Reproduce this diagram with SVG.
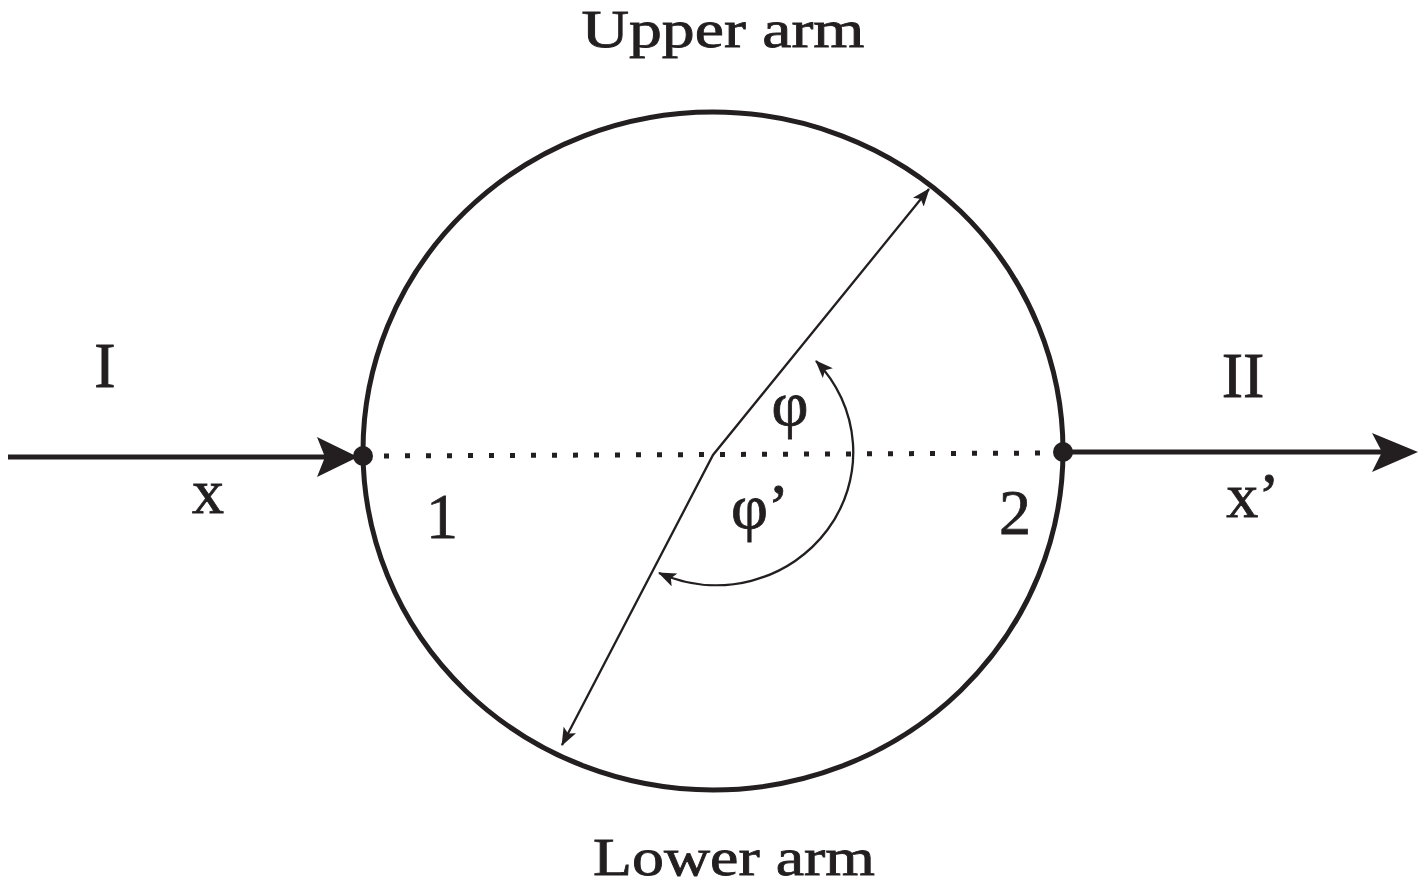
<svg xmlns="http://www.w3.org/2000/svg" width="1428" height="896" viewBox="0 0 1428 896">
<style>
.lbl{font-family:"Liberation Serif","Times New Roman",serif;fill:#231f20;stroke:#231f20;stroke-width:0.8;text-anchor:middle}
.big{font-size:52px}
.med{font-size:64px}
.thick{stroke:#231f20;stroke-width:5;fill:none}
.thin{stroke:#231f20;stroke-width:2.3;fill:none}
</style>
<defs>
<marker id="sm" viewBox="0 0 18 14" refX="17" refY="7" markerWidth="18" markerHeight="14" markerUnits="userSpaceOnUse" orient="auto-start-reverse">
<path d="M0,0 L18,7 L0,14 L4,7 Z" fill="#231f20"/>
</marker>
</defs>
<rect width="1428" height="896" fill="#fff"/>
<g id="ring">
<ellipse cx="713" cy="451" rx="350" ry="339" class="thick"/>
</g>
<g id="connectors">
<line x1="376" y1="456" x2="1052" y2="453" stroke="#231f20" stroke-width="5" stroke-dasharray="5 16" stroke-dashoffset="-8"/>
<line x1="8" y1="457" x2="330" y2="457" class="thick"/>
<path d="M317,437 L358,457 L317,477 L325,457 Z" fill="#231f20"/>
<line x1="1063" y1="452" x2="1390" y2="452" class="thick"/>
<path d="M1372,433 L1418,452 L1372,472 L1382,452 Z" fill="#231f20"/>
<polyline points="929,189 713,455 562,745" class="thin" marker-start="url(#sm)" marker-end="url(#sm)"/>
<path d="M816,361 A137 133 0 0 1 659,573" class="thin" marker-start="url(#sm)" marker-end="url(#sm)"/>
</g>
<g id="node1"><circle cx="363" cy="456" r="10" fill="#231f20"/></g>
<g id="node2"><circle cx="1063" cy="452" r="10" fill="#231f20"/></g>
<g id="labels">
<text class="lbl big" x="723" y="47" textLength="283" lengthAdjust="spacingAndGlyphs">Upper arm</text>
<text class="lbl big" x="734" y="875" textLength="282" lengthAdjust="spacingAndGlyphs">Lower arm</text>
<text class="lbl med" x="105" y="387">I</text>
<text class="lbl med" x="1243" y="397">II</text>
<text class="lbl med" x="208" y="513">x</text>
<text class="lbl med" x="1253" y="517">x’</text>
<text class="lbl med" x="442" y="538">1</text>
<text class="lbl med" x="1015" y="534">2</text>
<text class="lbl med" x="790" y="425">φ</text>
<text class="lbl med" x="760" y="528">φ’</text>
</g>
</svg>
